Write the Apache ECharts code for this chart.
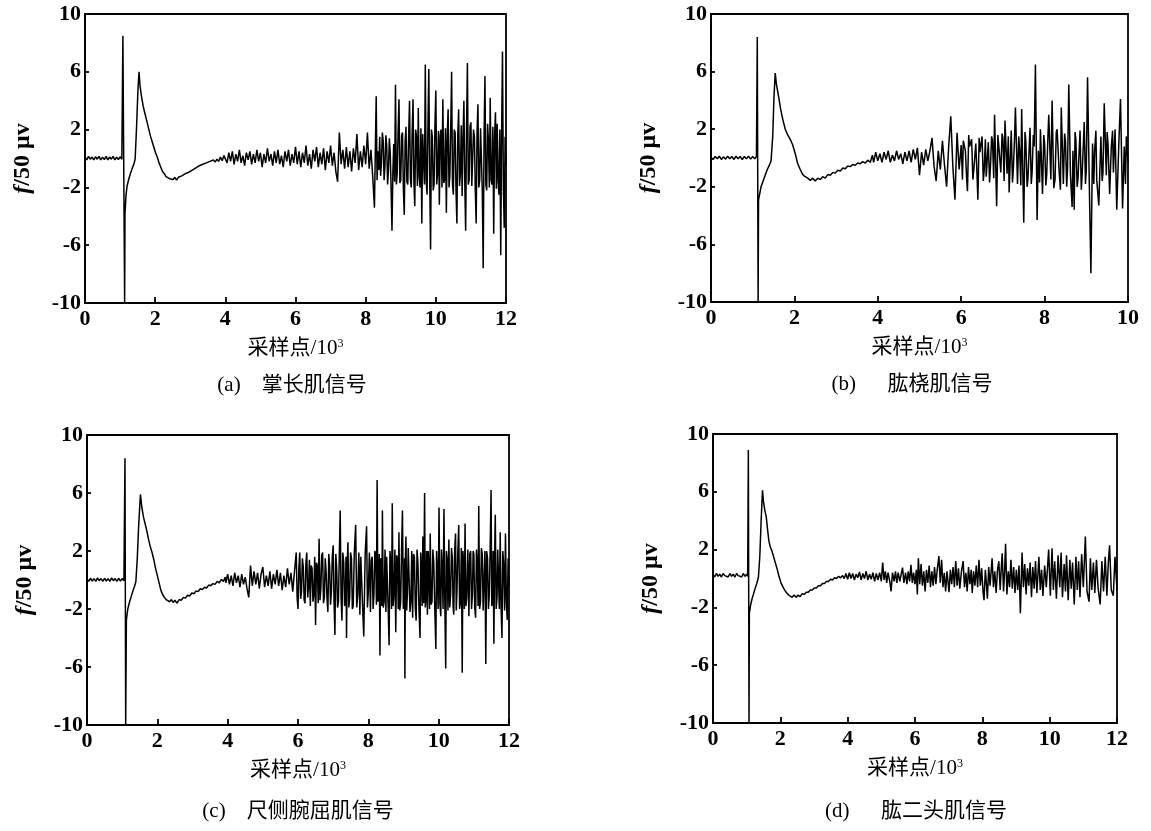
<!DOCTYPE html>
<html><head><meta charset="utf-8">
<script src="https://cdn.jsdelivr.net/npm/echarts@6/dist/echarts.min.js"></script>
<style>html,body{margin:0;padding:0;background:#fff}#c{width:1151px;height:831px}</style>
</head><body><div id="c"></div>
<script>
// ---------- tick labels / categories ----------
const yTicks = [-10, -6, -2, 2, 6, 10];
const xTicks12 = [0, 2, 4, 6, 8, 10, 12];
const xTicks10 = [0, 2, 4, 6, 8, 10];
const captions = ['(a)    掌长肌信号', '(b)      肱桡肌信号', '(c)    尺侧腕屈肌信号', '(d)      肱二头肌信号'];
const xTitle = '采样点/10{s|3}';
const yTitle = '{i|f}/50 μv';

// ---------- series values: [sample/10^3, f/50 μv] ----------
const aSignal = [
[0,0.1],[0.05,-0.1],[0.1,0.15],[0.15,-0.05],[0.2,0.1],[0.25,-0.1],[0.3,0.12],[0.35,-0.05],[0.4,0.15],[0.45,-0.1],[0.5,0.1],[0.55,-0.08],[0.6,0.15],[0.65,-0.1],[0.7,0.1],[0.75,-0.05],[0.8,0.15],[0.85,-0.1],[0.9,0.1],[0.95,-0.08],[1.0,0.12],[1.05,-0.05],
[1.08,8.5],[1.13,-10],[1.14,-3.8],[1.17,-2.5],[1.2,-1.9],[1.25,-1.4],[1.3,-1.0],[1.35,-0.65],[1.4,-0.35],[1.43,0],[1.47,2.2],[1.51,4.8],[1.54,6.0],[1.57,5.0],[1.61,4.3],[1.66,3.6],[1.71,3.1],[1.76,2.6],[1.81,2.1],[1.86,1.6],[1.91,1.2],[1.96,0.8],[2.01,0.4],[2.06,0.1],[2.11,-0.3],[2.16,-0.6],[2.21,-0.9],[2.26,-1.05],[2.31,-1.25],[2.36,-1.2],[2.41,-1.4],[2.46,-1.3],[2.51,-1.45],[2.56,-1.3],[2.61,-1.5],[2.66,-1.3],[2.71,-1.35],[2.76,-1.2],[2.81,-1.25],[2.86,-1.05],[2.91,-1.15],[2.96,-0.95],[3.01,-1.0],[3.06,-0.8],[3.11,-0.85],[3.16,-0.65],[3.21,-0.7],[3.26,-0.5],[3.31,-0.6],[3.36,-0.4],[3.41,-0.45],[3.46,-0.3],[3.51,-0.35],[3.56,-0.2],[3.61,-0.3],[3.66,-0.1],[3.71,-0.25],[3.76,-0.05],[3.81,-0.2],[3.86,0.1],[3.91,-0.15],[3.96,0.2],
[4.00,0.3],[4.05,-0.3],[4.10,0.4],[4.15,-0.2],[4.20,0.5],[4.25,-0.4],[4.30,0.3],[4.35,-0.2],[4.40,0.6],[4.45,-0.3],[4.50,0.2],[4.55,-0.5],[4.60,0.4],[4.65,-0.1],[4.70,0.5],[4.75,-0.4],[4.80,0.3],[4.85,-0.3],[4.90,0.6],[4.95,-0.2],[5.00,0.4],[5.05,-0.6],[5.10,0.3],[5.15,-0.3],[5.20,0.7],[5.25,-0.2],[5.30,0.3],[5.35,-0.5],[5.40,0.5],[5.45,-0.3],[5.50,0.6],[5.55,-0.4],[5.60,0.2],[5.65,-0.6],[5.70,0.5],[5.75,-0.2],[5.80,0.6],[5.85,-0.5],[5.90,0.3],[5.95,-0.3],
[6.00,0.8],[6.05,-0.4],[6.10,0.5],[6.15,-0.6],[6.20,0.4],[6.25,-0.3],[6.30,0.9],[6.35,-0.5],[6.40,0.3],[6.45,-0.7],[6.50,0.6],[6.55,-0.2],[6.60,0.8],[6.65,-0.6],[6.70,0.4],[6.75,-0.4],[6.80,0.7],[6.85,-0.8],[6.90,0.5],[6.95,-0.3],
[7.00,0.9],[7.05,-0.5],[7.10,0.4],[7.15,-0.9],[7.20,-1.6],[7.25,1.8],[7.30,-0.4],[7.35,0.6],[7.40,-0.7],[7.45,0.8],[7.50,-0.6],[7.55,0.5],[7.60,-0.9],[7.65,0.7],[7.70,-0.3],[7.75,1.7],[7.80,-0.8],[7.85,0.5],[7.90,-0.6],[7.95,0.9],[8.00,-0.4],[8.05,1.8],[8.10,-0.7],[8.15,0.6],[8.20,-1.2],[8.25,-3.4],
[8.30,4.3],[8.325,-1.5],[8.35,0.5],[8.375,-0.8],[8.40,1.5],[8.425,-1.2],[8.45,-0.3],[8.475,1.8],[8.50,1.2],[8.525,-1.5],[8.55,-0.5],[8.575,1.6],[8.60,0.9],[8.625,-1.8],[8.65,-0.8],[8.675,1.4],[8.70,0.4],[8.725,-2.0],[8.75,-5.0],[8.775,-1.0],[8.80,1.0],[8.825,-1.6],[8.85,5.1],[8.875,-1.8],[8.90,-1.0],[8.925,1.9],[8.95,4.1],[8.975,-1.7],[9.00,-1.5],[9.025,1.6],[9.05,1.8],[9.075,-2.1],[9.10,-3.9],[9.125,1.2],[9.15,2.2],[9.175,-1.6],[9.20,-1.8],[9.225,1.5],[9.25,4.0],[9.275,-1.4],[9.30,-2.0],[9.325,1.8],[9.35,4.1],[9.375,-1.6],[9.40,-3.3],[9.425,2.0],[9.45,1.5],[9.475,-1.9],[9.50,3.5],[9.525,-1.2],[9.55,-2.0],[9.575,2.1],[9.60,-4.5],[9.625,1.7],[9.65,1.8],[9.675,-1.8],[9.70,6.5],[9.725,-1.5],[9.75,-2.5],[9.775,2.2],[9.80,6.2],[9.825,-1.4],[9.85,-6.3],[9.875,2.0],[9.90,1.5],[9.925,-2.2],[9.95,-1.8],[9.975,2.3],
[10.00,4.7],[10.025,-1.8],[10.05,-1.0],[10.075,1.9],[10.10,-3.2],[10.125,1.6],[10.15,2.0],[10.175,-2.0],[10.20,4.1],[10.225,-1.7],[10.25,-1.5],[10.275,2.1],[10.30,-3.75],[10.325,1.5],[10.35,3.4],[10.375,-2.0],[10.40,-1.2],[10.425,2.2],[10.45,6.0],[10.475,-1.8],[10.50,-2.5],[10.525,2.0],[10.55,1.8],[10.575,-2.2],[10.60,-4.5],[10.625,1.6],[10.65,3.4],[10.675,-1.9],[10.70,-1.0],[10.725,2.3],[10.75,-2.6],[10.775,1.5],[10.80,4.0],[10.825,-1.6],[10.85,-5.0],[10.875,2.0],[10.90,6.6],[10.925,-1.8],[10.95,-1.5],[10.975,2.2],[11.00,2.5],[11.025,-1.9],[11.05,-2.0],[11.075,2.0],[11.10,1.5],[11.125,-2.2],[11.15,-4.5],[11.175,1.8],[11.20,3.75],[11.225,-2.0],[11.25,-1.5],[11.275,2.1],[11.30,2.0],[11.325,-2.3],[11.35,-7.6],[11.375,1.5],[11.40,5.7],[11.425,-1.8],[11.45,-2.2],[11.475,2.4],[11.50,1.2],[11.525,-2.0],[11.55,4.2],[11.575,-1.5],[11.60,-1.8],[11.625,2.2],[11.65,-5.2],[11.675,1.6],[11.70,3.2],[11.725,-2.1],[11.75,2.4],[11.775,-1.6],[11.80,-2.5],[11.825,2.0],[11.85,-6.7],[11.875,1.8],[11.90,7.4],[11.925,-2.0],[11.95,-4.8],[11.975,1.5],[12.00,-0.5]
];

const bSignal = [
[0,0.05],[0.05,-0.1],[0.1,0.1],[0.15,-0.05],[0.2,0.12],[0.25,-0.1],[0.3,0.08],[0.35,-0.08],[0.4,0.12],[0.45,-0.05],[0.5,0.1],[0.55,-0.1],[0.6,0.12],[0.65,-0.05],[0.7,0.1],[0.75,-0.1],[0.8,0.1],[0.85,-0.05],[0.9,0.12],[0.95,-0.08],[1.0,0.1],[1.05,-0.05],[1.09,0.1],
[1.11,8.4],[1.13,-10],[1.14,-2.9],[1.2,-2.0],[1.25,-1.6],[1.3,-1.2],[1.35,-0.8],[1.4,-0.5],[1.44,-0.2],[1.48,1.5],[1.51,4.2],[1.54,5.9],[1.57,5.1],[1.62,4.3],[1.67,3.4],[1.72,2.7],[1.78,2.0],[1.84,1.6],[1.9,1.3],[1.96,0.9],[2.02,0.3],[2.08,-0.4],[2.14,-0.8],[2.2,-1.15],[2.26,-1.3],[2.32,-1.4],[2.38,-1.55],[2.44,-1.4],[2.5,-1.6],[2.56,-1.4],[2.62,-1.5],[2.68,-1.3],[2.74,-1.4],[2.8,-1.15],[2.86,-1.2],[2.92,-1.0],[2.98,-1.05],[3.04,-0.85],[3.1,-0.9],[3.16,-0.7],[3.22,-0.75],[3.28,-0.55],[3.34,-0.6],[3.4,-0.45],[3.46,-0.5],[3.52,-0.35],[3.58,-0.4],[3.64,-0.25],[3.7,-0.35],[3.76,-0.15],[3.82,-0.3],[3.87,0.2],
[3.90,-0.3],[3.95,0.4],[4.00,-0.2],[4.05,0.3],[4.10,-0.3],[4.15,0.4],[4.20,-0.1],[4.25,0.5],[4.30,-0.3],[4.35,0.2],[4.40,-0.2],[4.45,0.5],[4.50,-0.1],[4.55,0.3],[4.60,-0.4],[4.65,0.4],[4.70,-0.2],[4.75,0.5],[4.80,-0.3],[4.85,0.6],[4.90,-0.1],[4.95,0.7],[5.00,-1.2],[5.05,0.4],[5.10,-0.5],[5.15,0.6],[5.20,-0.2],[5.25,0.5],[5.30,1.4],[5.35,-0.6],[5.40,-1.6],[5.45,0.5],[5.50,-0.8],[5.55,1.2],[5.60,-0.5],[5.65,-2.0],[5.70,0.8],[5.75,2.9],[5.80,-0.6],[5.85,-2.9],[5.90,1.75],[5.95,-0.8],
[6.00,0.9],[6.03,-1.5],[6.05,1.2],[6.10,0.5],[6.13,-1.4],[6.15,-2.3],[6.18,1.6],[6.20,0.8],[6.25,1.3],[6.28,-1.5],[6.30,-0.9],[6.35,1.0],[6.38,-1.2],[6.40,-2.9],[6.43,1.4],[6.45,0.4],[6.50,1.5],[6.53,-1.6],[6.55,-0.9],[6.58,1.3],[6.60,-1.3],[6.65,1.1],[6.68,-1.7],[6.70,-0.7],[6.73,1.5],[6.75,1.2],[6.78,-1.4],[6.80,3.0],[6.85,-3.35],[6.88,1.6],[6.90,0.9],[6.95,-1.0],[6.98,1.7],[7.00,1.4],[7.03,-1.6],[7.05,2.6],[7.10,-1.1],[7.13,1.5],[7.15,-2.4],[7.20,1.9],[7.23,-1.7],[7.25,-0.8],[7.28,1.4],[7.30,3.5],[7.35,-1.8],[7.38,1.5],[7.40,0.6],[7.43,-1.9],[7.45,3.4],[7.50,-4.5],[7.53,1.8],[7.55,1.2],[7.58,-2.0],[7.60,-1.5],[7.65,2.1],[7.68,-1.8],[7.70,-1.0],[7.73,1.6],[7.75,0.8],[7.78,6.5],[7.82,-4.3],[7.85,0.5],[7.88,-1.7],[7.90,2.0],[7.95,-2.5],[7.98,1.6],
[8.00,1.0],[8.03,-1.9],[8.05,-1.2],[8.08,1.5],[8.10,3.0],[8.15,-1.5],[8.18,4.0],[8.22,-2.1],[8.25,-1.5],[8.28,1.8],[8.30,2.0],[8.35,-1.0],[8.38,-2.2],[8.40,3.5],[8.45,-1.8],[8.48,1.7],[8.50,1.2],[8.53,-2.0],[8.55,-0.8],[8.58,5.1],[8.62,-1.2],[8.66,-3.4],[8.68,0.5],[8.71,-3.6],[8.73,1.8],[8.75,1.3],[8.78,-2.0],[8.80,-1.5],[8.85,1.9],[8.88,-2.2],[8.90,-1.2],[8.95,2.5],[8.98,-1.8],[9.00,-0.8],[9.03,5.6],[9.07,-1.5],[9.11,-8.0],[9.15,1.0],[9.18,-1.8],[9.20,0.5],[9.23,1.9],[9.25,-1.5],[9.30,-3.3],[9.35,1.5],[9.38,-1.6],[9.40,-1.0],[9.43,3.8],[9.48,-1.2],[9.50,1.8],[9.52,1.0],[9.56,-2.5],[9.60,0.8],[9.63,1.9],[9.65,-1.0],[9.69,2.0],[9.73,-3.6],[9.78,1.0],[9.82,4.1],[9.87,-3.5],[9.91,0.8],[9.94,-1.8],[9.96,1.5],[10.0,-0.3]
];

const cSignal = [
[0,0.1],[0.05,-0.1],[0.1,0.12],[0.15,-0.08],[0.2,0.1],[0.25,-0.1],[0.3,0.15],[0.35,-0.05],[0.4,0.1],[0.45,-0.1],[0.5,0.12],[0.55,-0.08],[0.6,0.1],[0.65,-0.1],[0.7,0.15],[0.75,-0.05],[0.8,0.1],[0.85,-0.1],[0.9,0.12],[0.95,-0.08],[1.0,0.1],[1.05,-0.05],
[1.08,8.4],[1.1,-10],[1.12,-2.75],[1.16,-2.0],[1.2,-1.6],[1.25,-1.2],[1.3,-0.8],[1.35,-0.45],[1.39,-0.1],[1.43,1.5],[1.47,3.8],[1.52,5.9],[1.56,5.0],[1.61,4.3],[1.66,3.8],[1.7,3.4],[1.75,2.8],[1.8,2.3],[1.85,1.9],[1.9,1.4],[1.95,0.8],[2.0,0.3],[2.05,-0.2],[2.1,-0.7],[2.15,-1.0],[2.2,-1.2],[2.25,-1.35],[2.3,-1.4],[2.35,-1.5],[2.4,-1.35],[2.45,-1.55],[2.5,-1.4],[2.56,-1.6],[2.62,-1.35],[2.68,-1.4],[2.74,-1.2],[2.8,-1.25],[2.86,-1.05],[2.92,-1.1],[2.98,-0.9],[3.04,-0.95],[3.1,-0.75],[3.16,-0.8],[3.22,-0.6],[3.28,-0.65],[3.34,-0.5],[3.4,-0.55],[3.46,-0.35],[3.52,-0.4],[3.58,-0.25],[3.64,-0.3],[3.7,-0.1],[3.76,-0.2],[3.82,0.05],[3.88,-0.1],[3.93,0.2],
[3.95,-0.2],[4.00,0.4],[4.05,-0.3],[4.10,0.3],[4.15,-0.4],[4.20,0.5],[4.25,-0.2],[4.30,0.3],[4.35,-0.5],[4.40,0.4],[4.45,-0.3],[4.50,0.2],[4.55,-0.6],[4.60,-1.2],[4.65,1.0],[4.70,-0.4],[4.75,0.6],[4.80,-0.3],[4.85,0.5],[4.90,-0.6],[4.95,0.4],[5.00,0.9],[5.05,-0.5],[5.10,0.3],[5.15,-0.4],[5.20,0.6],[5.25,-0.6],[5.30,0.4],[5.35,-0.3],[5.40,0.7],[5.45,-0.4],[5.50,0.5],[5.55,-0.7],[5.60,0.3],[5.65,-0.5],[5.70,0.8],[5.75,-0.3],[5.80,0.5],[5.85,-0.8],[5.90,0.6],
[5.95,1.9],[5.975,-1.2],[6.00,-2.0],[6.025,0.8],[6.05,1.9],[6.075,-1.3],[6.10,-0.8],[6.125,1.5],[6.15,0.9],[6.175,-1.4],[6.20,-1.6],[6.225,1.2],[6.25,1.9],[6.275,-1.2],[6.30,-0.5],[6.325,1.4],[6.35,-1.8],[6.375,1.0],[6.40,0.8],[6.425,-1.5],[6.45,-1.0],[6.475,1.6],[6.50,-3.1],[6.525,1.2],[6.55,1.0],[6.575,-1.6],[6.60,2.85],[6.625,-1.4],[6.65,-0.6],[6.675,1.7],[6.70,1.9],[6.725,-1.6],[6.75,-1.2],[6.775,1.5],[6.80,0.5],[6.825,-1.3],[6.85,-2.2],[6.875,1.8],[6.90,1.0],[6.925,-1.7],[6.95,-0.8],[6.975,1.6],[7.00,2.4],[7.025,-1.5],[7.05,-3.8],[7.075,1.8],[7.10,0.8],[7.125,-1.9],[7.15,-1.5],[7.175,1.7],[7.20,4.8],[7.225,-1.2],[7.25,-2.8],[7.275,1.9],[7.30,1.2],[7.325,-1.8],[7.35,-1.0],[7.365,1.6],[7.38,-4.0],[7.40,1.2],[7.42,2.6],[7.445,-1.9],[7.47,-1.2],[7.495,1.9],[7.52,1.5],[7.545,-2.0],[7.57,-1.8],[7.60,1.8],[7.64,3.8],[7.67,-1.9],[7.70,-1.0],[7.73,1.9],[7.76,-2.4],[7.785,1.6],[7.81,1.5],[7.84,-2.0],[7.87,-3.9],[7.91,1.8],[7.95,3.7],[7.975,-1.9],
[8.00,-0.8],[8.03,1.9],[8.06,-2.2],[8.085,1.4],[8.11,1.6],[8.135,-2.0],[8.16,-1.0],[8.185,2.0],[8.21,1.8],[8.23,-1.7],[8.25,6.9],[8.27,-1.5],[8.29,-1.2],[8.31,1.8],[8.33,-5.2],[8.35,1.5],[8.37,1.0],[8.385,-1.8],[8.40,4.8],[8.425,-1.9],[8.45,-1.5],[8.475,2.1],[8.50,-2.2],[8.52,1.6],[8.54,1.5],[8.565,-2.0],[8.59,-4.5],[8.615,2.0],[8.64,1.2],[8.66,-2.0],[8.68,5.3],[8.705,-1.8],[8.73,-1.0],[8.755,2.1],[8.78,-3.6],[8.805,1.7],[8.83,1.5],[8.85,-2.0],[8.87,3.3],[8.895,-2.1],[8.92,-1.5],[8.945,2.0],[8.97,4.8],[8.995,-2.0],[9.02,-1.0],[9.03,1.5],[9.04,-6.8],[9.055,1.5],[9.07,3.0],[9.09,-2.1],[9.11,-1.0],[9.135,2.2],[9.16,2.2],[9.185,-2.2],[9.21,-1.5],[9.235,2.0],[9.26,-2.6],[9.285,1.8],[9.31,1.6],[9.335,-1.9],[9.36,-2.8],[9.385,2.1],[9.41,1.2],[9.44,-2.0],[9.47,-4.0],[9.49,1.9],[9.51,0.8],[9.53,-1.8],[9.55,3.0],[9.575,-1.6],[9.60,6.0],[9.62,-1.9],[9.64,-1.2],[9.66,2.0],[9.68,-2.4],[9.70,2.0],[9.72,1.0],[9.74,-2.0],[9.76,3.2],[9.785,-1.7],[9.81,-1.5],[9.835,2.1],[9.86,1.2],[9.89,-2.0],[9.92,-4.75],[9.94,2.0],[9.96,0.8],[9.985,-2.0],
[10.01,5.0],[10.035,-1.6],[10.06,-2.5],[10.08,2.1],[10.10,1.0],[10.125,-2.0],[10.15,4.9],[10.175,-1.5],[10.20,-6.1],[10.22,2.0],[10.24,1.5],[10.265,-2.1],[10.29,2.8],[10.315,-1.9],[10.34,-1.0],[10.365,2.2],[10.39,1.5],[10.41,-1.8],[10.43,-2.4],[10.455,2.0],[10.48,3.2],[10.50,-2.1],[10.52,-0.8],[10.545,1.9],[10.57,3.8],[10.595,-2.0],[10.62,-1.5],[10.645,2.2],[10.67,-6.4],[10.69,2.0],[10.71,1.0],[10.73,-2.0],[10.75,3.9],[10.775,-1.8],[10.80,-1.2],[10.83,2.1],[10.86,-2.5],[10.885,1.8],[10.91,2.0],[10.935,-2.0],[10.96,-1.0],[10.98,2.0],[11.00,1.8],[11.025,-1.9],[11.05,-2.6],[11.075,2.1],[11.10,1.0],[11.12,-1.8],[11.14,5.1],[11.165,-2.0],[11.19,-1.5],[11.215,2.2],[11.24,1.8],[11.265,-2.1],[11.29,-2.0],[11.315,2.0],[11.34,-5.8],[11.365,2.0],[11.39,1.5],[11.415,-2.0],[11.44,-1.0],[11.465,2.2],[11.49,6.2],[11.51,-1.8],[11.53,-1.5],[11.55,2.0],[11.57,-4.4],[11.59,1.5],[11.61,4.5],[11.635,-2.0],[11.66,-1.2],[11.68,2.1],[11.70,2.0],[11.725,-2.0],[11.75,3.3],[11.775,-1.9],[11.80,-4.0],[11.825,2.0],[11.85,1.0],[11.875,-2.1],[11.90,3.2],[11.925,-1.5],[11.95,-2.75],[11.975,1.5],[12.0,-0.5]
];

const dSignal = [
[0,0.3],[0.05,0.1],[0.1,0.35],[0.15,0.15],[0.2,0.3],[0.25,0.1],[0.3,0.35],[0.35,0.2],[0.4,0.3],[0.45,0.1],[0.5,0.35],[0.55,0.15],[0.6,0.3],[0.65,0.1],[0.7,0.35],[0.75,0.2],[0.8,0.3],[0.85,0.1],[0.9,0.35],[0.95,0.15],[1.0,0.3],[1.03,0.15],
[1.05,8.9],[1.07,-10],[1.08,-2.4],[1.12,-1.8],[1.16,-1.4],[1.2,-1.1],[1.25,-0.7],[1.3,-0.35],[1.35,0.1],[1.39,1.5],[1.43,4.0],[1.47,6.1],[1.5,5.3],[1.54,4.7],[1.58,4.3],[1.62,3.4],[1.66,2.6],[1.7,2.2],[1.75,1.9],[1.8,1.5],[1.85,1.1],[1.9,0.7],[1.96,0.15],[2.02,-0.3],[2.08,-0.6],[2.13,-0.8],[2.19,-1.0],[2.25,-1.15],[2.29,-1.1],[2.35,-1.3],[2.41,-1.15],[2.47,-1.3],[2.53,-1.15],[2.59,-1.25],[2.65,-1.05],[2.71,-1.1],[2.77,-0.95],[2.83,-0.95],[2.89,-0.8],[2.95,-0.8],[3.01,-0.65],[3.07,-0.65],[3.13,-0.5],[3.19,-0.5],[3.25,-0.35],[3.31,-0.35],[3.37,-0.2],[3.43,-0.2],[3.49,-0.05],[3.55,-0.1],[3.61,0.05],[3.67,0.0],[3.73,0.15],[3.79,0.05],[3.85,0.2],
[3.90,0.0],[3.95,0.35],[4.00,-0.05],[4.05,0.4],[4.10,0.0],[4.15,0.35],[4.20,-0.1],[4.25,0.3],[4.30,0.05],[4.35,0.45],[4.40,-0.1],[4.45,0.35],[4.50,0.0],[4.55,0.5],[4.60,-0.1],[4.65,0.3],[4.70,-0.05],[4.75,0.4],[4.80,-0.2],[4.85,0.35],[4.90,-0.1],[4.95,0.4],[5.00,-0.2],[5.04,1.1],[5.08,-0.1],[5.12,0.5],[5.16,-0.3],[5.20,0.4],[5.25,-0.2],[5.29,-0.9],[5.33,0.4],[5.38,-0.2],[5.42,0.5],[5.46,-0.3],[5.50,0.4],[5.55,-0.2],[5.59,0.3],[5.63,0.75],[5.67,-0.3],[5.72,0.4],[5.76,-0.4],[5.80,0.5],[5.84,-0.2],[5.88,0.95],[5.92,-0.3],[5.96,0.4],
[6.00,-0.4],[6.04,0.6],[6.07,-1.1],[6.10,1.4],[6.14,-0.4],[6.18,1.0],[6.22,-0.5],[6.26,0.5],[6.30,-0.9],[6.34,0.6],[6.38,-0.3],[6.42,0.9],[6.46,-0.6],[6.50,0.5],[6.54,-0.5],[6.58,0.8],[6.62,-0.4],[6.66,0.6],[6.71,1.55],[6.75,-0.3],[6.79,1.3],[6.83,-0.6],[6.87,0.4],[6.91,-0.9],[6.95,0.5],[7.01,-0.95],[7.05,0.6],[7.09,-0.4],[7.13,0.8],[7.17,-0.6],[7.21,1.2],[7.25,-0.5],[7.29,0.7],[7.33,-0.7],[7.38,0.5],[7.43,1.2],[7.47,-0.6],[7.51,0.4],[7.55,-0.9],[7.59,0.8],[7.63,-0.4],[7.67,0.6],[7.70,-1.0],[7.74,0.5],[7.78,-0.5],[7.82,0.9],[7.86,-0.6],[7.90,1.3],[7.94,-0.5],[7.98,0.7],
[8.02,-0.9],[8.05,-1.5],[8.09,0.6],[8.12,-0.3],[8.15,-1.4],[8.19,0.8],[8.23,-0.5],[8.29,1.4],[8.33,-0.6],[8.37,0.5],[8.41,-1.0],[8.45,0.6],[8.49,1.2],[8.53,-0.8],[8.56,0.6],[8.59,1.75],[8.63,-0.9],[8.66,0.4],[8.69,2.4],[8.73,-1.1],[8.77,0.5],[8.81,-0.6],[8.85,1.3],[8.89,-0.7],[8.93,0.8],[8.97,-1.0],[9.01,0.6],[9.05,-0.8],[9.09,0.9],[9.13,-2.4],[9.18,1.8],[9.22,-0.6],[9.26,1.0],[9.30,-1.1],[9.34,0.7],[9.38,-0.5],[9.42,1.1],[9.46,-1.3],[9.50,0.8],[9.54,-0.7],[9.58,1.2],[9.62,-1.0],[9.68,1.5],[9.72,-0.8],[9.76,0.6],[9.80,-1.2],[9.85,0.9],[9.90,-0.6],[9.97,2.0],
[10.02,-1.2],[10.07,2.1],[10.11,-0.8],[10.15,1.2],[10.20,-1.4],[10.25,1.6],[10.30,-0.6],[10.34,1.8],[10.38,-1.3],[10.43,1.0],[10.47,-0.9],[10.50,1.6],[10.55,-1.5],[10.60,1.3],[10.64,-0.7],[10.68,1.1],[10.73,-1.8],[10.78,1.5],[10.82,-0.8],[10.86,1.2],[10.90,-1.3],[10.95,1.7],[11.00,-0.6],[11.06,2.9],[11.11,-0.9],[11.17,-1.6],[11.21,1.4],[11.25,-0.8],[11.30,1.1],[11.34,-1.0],[11.39,1.3],[11.44,-0.7],[11.50,-1.8],[11.55,1.2],[11.60,-0.9],[11.65,1.5],[11.70,-1.2],[11.74,1.0],[11.78,2.3],[11.83,-0.8],[11.89,-1.2],[11.94,1.5],[12.0,-0.8]
];

// ---------- layout ----------
const FONT = "'Liberation Serif','Noto Sans CJK SC',serif";
const panels = [
  {grid:{left:85, top:14, width:421, height:289}, max:12, ticks:xTicks12, data:aSignal, cap:[292,385]},
  {grid:{left:711, top:14, width:417, height:288}, max:10, ticks:xTicks10, data:bSignal, cap:[912,384]},
  {grid:{left:87, top:435, width:422, height:290}, max:12, ticks:xTicks12, data:cSignal, cap:[298,811]},
  {grid:{left:713, top:434, width:404, height:289}, max:12, ticks:xTicks12, data:dSignal, cap:[916,811]}
];

const option = {
  animation: false,
  backgroundColor: '#fff',
  grid: panels.map(p => Object.assign({show:true, borderColor:'#000', borderWidth:1.8, backgroundColor:'transparent'}, p.grid)),
  xAxis: panels.map((p, i) => ({
    type:'value', gridIndex:i, min:0, max:p.max, interval:2,
    axisLine:{show:true, onZero:false, lineStyle:{color:'#000', width:1.8}},
    axisTick:{show:true, inside:true, length:6, lineStyle:{color:'#000', width:1.8}, customValues:p.ticks},
    axisLabel:{color:'#000', fontFamily:FONT, fontSize:22, fontWeight:'bold', margin:5, customValues:p.ticks},
    splitLine:{show:false},
    name:xTitle, nameLocation:'middle', nameGap:35,
    nameTextStyle:{color:'#000', fontFamily:FONT, fontSize:21, rich:{s:{fontSize:12, fontFamily:FONT, color:'#000', verticalAlign:'top'}}}
  })),
  yAxis: panels.map((p, i) => ({
    type:'value', gridIndex:i, min:-10, max:10,
    axisLine:{show:true, onZero:false, lineStyle:{color:'#000', width:1.8}},
    axisTick:{show:true, inside:true, length:4, lineStyle:{color:'#000', width:1.8}, customValues:yTicks},
    axisLabel:{color:'#000', fontFamily:FONT, fontSize:22, fontWeight:'bold', margin:4, customValues:yTicks},
    splitLine:{show:false},
    name:yTitle, nameLocation:'middle', nameGap:50, nameRotate:90,
    nameTextStyle:{color:'#000', fontFamily:FONT, fontSize:24, fontWeight:'bold', rich:{i:{fontStyle:'italic', fontWeight:'bold', fontFamily:FONT, fontSize:24, color:'#000'}}}
  })),
  series: panels.map((p, i) => ({
    type:'line', xAxisIndex:i, yAxisIndex:i, data:p.data, showSymbol:false, symbol:'none',
    lineStyle:{color:'#000', width:1.5}, clip:true, z:3
  })),
  graphic: panels.map((p, i) => ({
    type:'text', x:p.cap[0], y:p.cap[1],
    style:{text:captions[i], font:"21px 'Liberation Serif','Noto Sans CJK SC',serif", fill:'#000', textAlign:'center', textVerticalAlign:'middle'}
  }))
};

const chart = echarts.init(document.getElementById('c'), null, {renderer:'canvas'});
chart.setOption(option);
</script>
</body></html>
